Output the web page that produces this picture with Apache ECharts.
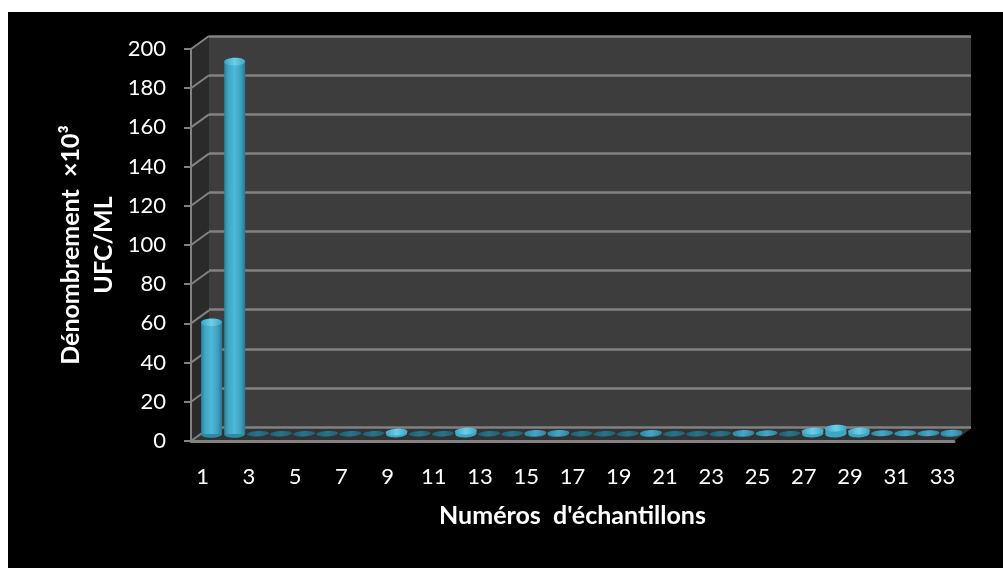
<!DOCTYPE html>
<html>
<head>
<meta charset="utf-8">
<style>
  html, body { margin: 0; padding: 0; background: #fff; }
  #page { position: relative; width: 1003px; height: 568px; overflow: hidden; }
  #sheet { position: absolute; left: 8px; top: 12px; right: 0; bottom: 0; background: #000; }
  #chart { position: absolute; left: 0; top: 0; width: 1003px; height: 568px; }
</style>
<script src="https://cdn.jsdelivr.net/npm/echarts@6/dist/echarts.min.js"></script>
</head>
<body>
<div id="page">
  <div id="sheet"></div>
  <div id="chart"></div>
</div>
<script>
// Sample numbers 1 to 33
const categories = ['1','2','3','4','5','6','7','8','9','10','11','12','13','14','15','16','17',
  '18','19','20','21','22','23','24','25','26','27','28','29','30','31','32','33'];
// Counts in thousands of CFU per mL
const counts = [57, 190, 0.1, 0.1, 0.1, 0.1, 0.1, 0.1, 1, 0.1, 0.1, 1.5, 0.1, 0.1, 0.5, 0.5, 0.1,
  0.1, 0.1, 0.5, 0.1, 0.1, 0.1, 0.5, 0.4, 0.1, 1.5, 3, 1.5, 0.4, 0.4, 0.4, 0.6];
const yTicks = [0, 20, 40, 60, 80, 100, 120, 140, 160, 180, 200];
const xTitle = "Numéros  d'échantillons";
const yTitle = 'Dénombrement  ×10³\nUFC/ML';

const FONT = 'Lato, "Open Sans", sans-serif';
const DEPTH_X = 18, DEPTH_Y = -13;   // offset of the back wall from the front plane
const LINE = '#828282';

const chart = echarts.init(document.getElementById('chart'), null, { renderer: 'canvas' });

// Walls, floor and the diagonal tick connectors of the pseudo-3D box
function renderFrame(params, api) {
  const cs = params.coordSys;
  const y = api.coord([0, api.value(1)])[1];
  const children = [];
  if (params.dataIndex === 0) {
    const bottom = cs.y + cs.height, top = cs.y;
    children.push({
      type: 'polygon',
      shape: { points: [[cs.x, top], [cs.x + DEPTH_X, top + DEPTH_Y],
        [cs.x + DEPTH_X, bottom + DEPTH_Y], [cs.x, bottom]] },
      style: { fill: '#2a2a2a' }
    }, {
      type: 'polygon',
      shape: { points: [[cs.x, bottom], [cs.x + DEPTH_X, bottom + DEPTH_Y],
        [cs.x + cs.width + DEPTH_X, bottom + DEPTH_Y], [cs.x + cs.width, bottom]] },
      style: { fill: '#333333' }
    });
  }
  children.push({
    type: 'line',
    shape: { x1: cs.x, y1: y, x2: cs.x + DEPTH_X, y2: y + DEPTH_Y },
    style: { stroke: LINE, lineWidth: 2 }
  });
  return { type: 'group', children };
}

// Cylinder: shaded side plus elliptical cap; very low counts read as a flat disc
function renderCylinder(params, api) {
  const i = api.value(0), v = api.value(1);
  const base = api.coord([i, 0]);
  const top = api.coord([i, v]);
  const rx = 10.5;
  const tall = v >= 5;
  const ry = tall ? 3.8 : v < 0.3 ? 2.7 : v < 0.8 ? 3 : 3.4;
  const capEdge = v < 0.3 ? '#205f74' : v < 0.8 ? '#2f86a0' : '#3ea6c5';
  const capMid = v < 0.3 ? '#2a7389' : v < 0.8 ? '#44a8c6' : '#6ccfe8';
  const capFill = new echarts.graphic.LinearGradient(0, 0, 1, 0, [
    { offset: 0, color: capEdge }, { offset: 0.5, color: capMid }, { offset: 1, color: capEdge }
  ]);
  const sideFill = tall ? new echarts.graphic.LinearGradient(0, 0, 1, 0, [
    { offset: 0, color: '#2a7f9a' }, { offset: 0.18, color: '#3fa5c3' },
    { offset: 0.5, color: '#4fb8d8' }, { offset: 0.8, color: '#3f9fbd' },
    { offset: 1, color: '#287790' }
  ]) : capEdge;
  const tilt = tall ? 0.02 : 0.05;
  const children = [];
  const height = base[1] - top[1];
  if (height > 0.8) {
    children.push({
      type: 'ellipse', x: base[0], y: base[1], rotation: tilt,
      shape: { cx: 0, cy: 0, rx, ry }, style: { fill: tall ? '#2f8aa6' : capEdge }
    }, {
      type: 'rect',
      shape: { x: base[0] - rx, y: top[1], width: rx * 2, height },
      style: { fill: sideFill }
    });
  }
  children.push({
    type: 'ellipse', x: top[0], y: top[1], rotation: tilt,
    shape: { cx: 0, cy: 0, rx: tall ? rx : 11, ry }, style: { fill: capFill }
  });
  return { type: 'group', children };
}

const axisText = { color: '#ffffff', fontFamily: FONT, fontSize: 22 };
const titleText = { color: '#ffffff', fontFamily: FONT, fontSize: 25, fontWeight: 'bold', lineHeight: 33 };

chart.setOption({
  animation: false,
  backgroundColor: 'transparent',
  grid: [
    { left: 191, top: 49, width: 763, height: 392, show: false },
    { left: 209, top: 36, width: 762, height: 391, show: true, backgroundColor: '#3d3d3d', borderWidth: 0, z: 0 },
    { left: 200, top: 42, width: 763, height: 392, show: false }
  ],
  xAxis: [
    {
      type: 'category', gridIndex: 0, data: categories, z: 4,
      axisLine: { show: true, lineStyle: { color: LINE, width: 3 } },
      axisTick: { show: false },
      axisLabel: Object.assign({ interval: 1, margin: 25 }, axisText),
      name: xTitle, nameLocation: 'middle', nameGap: 58, nameTextStyle: titleText
    },
    { type: 'category', gridIndex: 1, data: categories, show: false },
    { type: 'category', gridIndex: 2, data: categories, show: false }
  ],
  yAxis: [
    {
      type: 'value', gridIndex: 0, min: 0, max: 200, interval: 20, z: 4,
      axisLine: { show: true, lineStyle: { color: LINE, width: 2 } },
      axisTick: { show: true, length: 7, lineStyle: { color: LINE, width: 2 } },
      splitLine: { show: false },
      axisLabel: Object.assign({ margin: 25 }, axisText),
      name: yTitle, nameLocation: 'middle', nameRotate: 90, nameGap: 71, nameMoveOverlap: false,
      nameTextStyle: titleText
    },
    {
      type: 'value', gridIndex: 1, min: 0, max: 200, interval: 20, z: 2,
      axisLine: { show: false }, axisTick: { show: false }, axisLabel: { show: false },
      splitLine: { show: true, lineStyle: { color: LINE, width: 2.5 } }
    },
    { type: 'value', gridIndex: 2, min: 0, max: 200, show: false }
  ],
  series: [
    {
      type: 'custom', name: 'frame', xAxisIndex: 0, yAxisIndex: 0, z: 1, silent: true,
      clip: false, renderItem: renderFrame,
      data: yTicks.map(t => [0, t]), encode: { x: 0, y: 1 }
    },
    {
      type: 'custom', name: 'Dénombrement', xAxisIndex: 2, yAxisIndex: 2, z: 6,
      clip: false, renderItem: renderCylinder,
      data: counts.map((v, i) => [i, v]), encode: { x: 0, y: 1 }
    }
  ]
});
</script>
</body>
</html>
